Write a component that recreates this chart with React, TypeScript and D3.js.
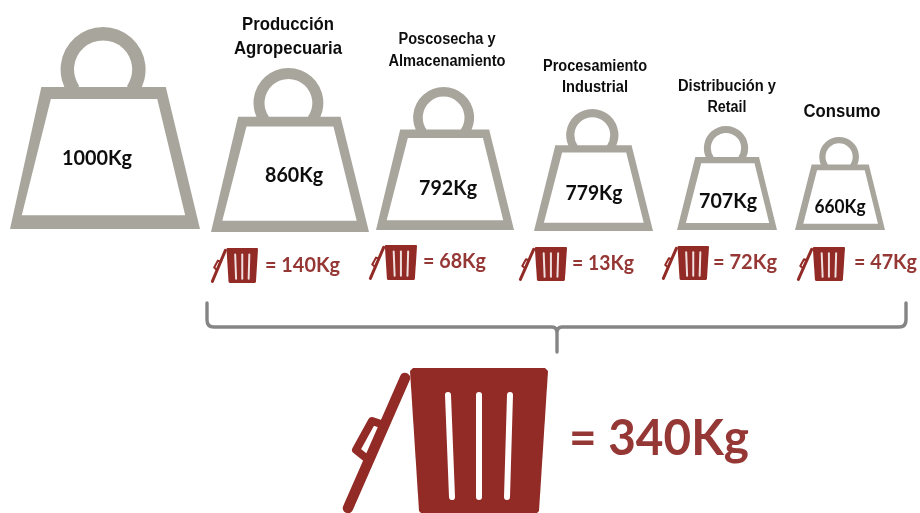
import React from "react";
import * as d3 from "d3";

// ---- data ----
const stageNames = [
  ["Producción", "Agropecuaria"],
  ["Poscosecha y", "Almacenamiento"],
  ["Procesamiento", "Industrial"],
  ["Distribución y", "Retail"],
  ["Consumo"],
];
const remainingKg = [1000, 860, 792, 779, 707, 660];
const wasteKg = [140, 68, 13, 72, 47];
const totalWasteKg = 340;

// ---- layout ----
const W = 920, H = 513;
const GREY = "#a8a59c", RED = "#922b26", REDTXT = "#953735";
const VALUE_FONT = "Lato, 'Open Sans', sans-serif";
const TITLE_FONT = "'Liberation Sans Narrow', 'Liberation Sans', sans-serif";

const weightBox = [
  [10, 200, 27, 229], [211, 369, 68, 232], [376, 514, 87, 230],
  [534, 653, 109, 231], [677, 777, 126, 230], [795, 885, 137, 230],
];
const valueText = [
  [97, 165, 21, 70], [294, 182, 21, 58], [448, 195, 21, 58],
  [594, 200, 21, 57], [728, 208, 21, 58], [840, 213, 18, 51],
];
const titleText = [
  [[288, 30, 18.5, 92], [288, 54, 18.5, 108]],
  [[447, 44, 16, 97], [447, 66, 16, 117]],
  [[595, 71, 16, 104], [595, 92, 16, 66]],
  [[727, 91, 16, 98], [727, 112, 16, 39]],
  [[842, 117, 18, 77]],
];
const binBox = [
  [211, 258, 248, 283], [369, 417, 245, 280], [519, 567, 247, 281],
  [662, 709, 246, 280], [797, 845, 247, 281],
];
const wasteText = [
  [265, 272, 75], [423, 268, 63], [572, 270, 62], [713, 269, 64], [854, 269, 63],
];
const bigBin = [342, 548, 368, 515];

// bin shape expressed in the frame of the big bin (342..548 x 368..515)
const binBody: [number, number][] = [[410, 371], [413, 368], [545, 368], [548, 371], [539, 511], [535, 515], [423, 515], [419, 511]];
const binLid: [number, number][] = [[405, 378], [348, 508]];
const binHandle: [number, number][] = [[384, 425], [372, 421], [356, 450], [366, 458]];
const binSlots: [number, number][][] = [
  [[448, 395], [452, 497]], [[479, 395], [479, 497]], [[510, 395], [507, 497]],
];

const closed = (pts: [number, number][]) => (d3.line()(pts) ?? "") + "Z";

function Weight({ box }: { box: number[] }) {
  const [x0, x1, y0, y1] = box;
  const x = d3.scaleLinear().domain([0, 1]).range([x0, x1]);
  const y = d3.scaleLinear().domain([0, 1]).range([y0, y1]);
  const map = (p: [number, number]): [number, number] => [x(p[0]), y(p[1])];
  const w = x1 - x0, h = y1 - y0;
  const t = (190 - w) / 100; // the frame is relatively heavier on the smaller weights
  const barTop = 0.297, innerTop = 0.357, innerBot = 0.932;
  const outerPts: [number, number][] = [[0.165 + 0.02 * t, barTop], [0.82, barTop], [1, 1], [0, 1]];
  const innerPts: [number, number][] = [[0.215 + 0.03 * t, innerTop], [0.775, innerTop], [0.922, innerBot], [0.062 + 0.03 * t, innerBot]];
  const r = (0.224 * w + 0.21 * h) / 2;
  const ri = (0.153 * w + 0.144 * h) / 2;
  const ringArc = d3.arc()({
    innerRadius: ri, outerRadius: r,
    startAngle: (-125 * Math.PI) / 180, endAngle: (125 * Math.PI) / 180,
  } as any) ?? "";
  return (
    <g>
      <path d={ringArc} fill={GREY} transform={`translate(${x(0.49)},${y0 + r})`} />
      <path d={closed(outerPts.map(map)) + closed(innerPts.map(map))} fill={GREY} fillRule="evenodd" />
    </g>
  );
}

function Bin({ box }: { box: number[] }) {
  const x = d3.scaleLinear().domain([bigBin[0], bigBin[1]]).range([box[0], box[1]]);
  const y = d3.scaleLinear().domain([bigBin[2], bigBin[3]]).range([box[2], box[3]]);
  const k = (box[1] - box[0]) / (bigBin[1] - bigBin[0]);
  const small = k < 0.5;
  const line = d3.line<[number, number]>().x((d) => x(d[0])).y((d) => y(d[1]));
  const bodyPath = (line(binBody) ?? "") + "Z";
  return (
    <g>
      <path d={bodyPath} fill={RED} />
      <path d={line(binLid) ?? ""} stroke={RED} strokeWidth={small ? 3 : 10.5} strokeLinecap="round" fill="none" />
      <path d={line(binHandle) ?? ""} stroke={RED} strokeWidth={small ? 2 : 8} strokeLinejoin="round" strokeLinecap="round" fill="none" />
      {binSlots.map((s, i) => (
        <path key={i} d={line(s) ?? ""} stroke="#fff" strokeOpacity={small ? 0.85 : 1} strokeWidth={small ? 2 : 6} strokeLinecap="round" fill="none" />
      ))}
    </g>
  );
}

const brace = (() => {
  const p = d3.path();
  p.moveTo(207, 303);
  p.lineTo(207, 320);
  p.quadraticCurveTo(207, 327, 214, 327);
  p.lineTo(552, 327);
  p.quadraticCurveTo(557, 327, 557, 333);
  p.lineTo(557, 352);
  p.moveTo(557, 333);
  p.quadraticCurveTo(557, 327, 562, 327);
  p.lineTo(899, 327);
  p.quadraticCurveTo(906, 327, 906, 320);
  p.lineTo(906, 303);
  return p.toString();
})();

export default function App() {
  return (
    <svg width={W} height={H} viewBox={`0 0 ${W} ${H}`}
      style={{ position: "absolute", left: 0, top: 0, background: "#fff", display: "block" }}>
      <defs>
        <filter id="soft" x="-5%" y="-5%" width="110%" height="110%" filterUnits="objectBoundingBox">
          <feGaussianBlur stdDeviation="0.45" />
        </filter>
        <filter id="braceBlur" x="-2%" y="-20%" width="104%" height="140%">
          <feGaussianBlur stdDeviation="0.6" />
        </filter>
      </defs>
      <g filter="url(#soft)">
        {weightBox.map((b, i) => <Weight key={i} box={b} />)}
      </g>
      <path d={brace} stroke="#858585" strokeWidth={3.4} fill="none" strokeLinecap="round" filter="url(#braceBlur)" />
      <g filter="url(#soft)">
        {binBox.map((b, i) => <Bin key={i} box={b} />)}
        <Bin box={bigBin} />
      </g>
      <g filter="url(#soft)">
        {remainingKg.map((v, i) => {
          const [cx, by, fs, len] = valueText[i];
          return (
            <text key={i} x={cx} y={by} textAnchor="middle" fontFamily={VALUE_FONT} fontWeight={700}
              fontSize={fs} fill="#0c0c0c" textLength={len} lengthAdjust="spacingAndGlyphs">{`${v}Kg`}</text>
          );
        })}
        {stageNames.map((lines, i) =>
          lines.map((t, j) => {
            const [cx, by, fs, len] = titleText[i][j];
            return (
              <text key={`${i}-${j}`} x={cx} y={by} textAnchor="middle" fontFamily={TITLE_FONT} fontWeight={700}
                fontSize={fs} fill="#111" textLength={len} lengthAdjust="spacingAndGlyphs">{t}</text>
            );
          })
        )}
        {wasteKg.map((v, i) => {
          const [x, by, len] = wasteText[i];
          return (
            <text key={i} x={x} y={by} fontFamily={VALUE_FONT} fontWeight={700} fontSize={20} fill={REDTXT}
              textLength={len} lengthAdjust="spacingAndGlyphs">{`= ${v}Kg`}</text>
          );
        })}
        <text x={569} y={455} fontFamily={VALUE_FONT} fontWeight={700} fontSize={49} fill={REDTXT}
          textLength={180} lengthAdjust="spacingAndGlyphs">{`= ${totalWasteKg}Kg`}</text>
      </g>
    </svg>
  );
}
